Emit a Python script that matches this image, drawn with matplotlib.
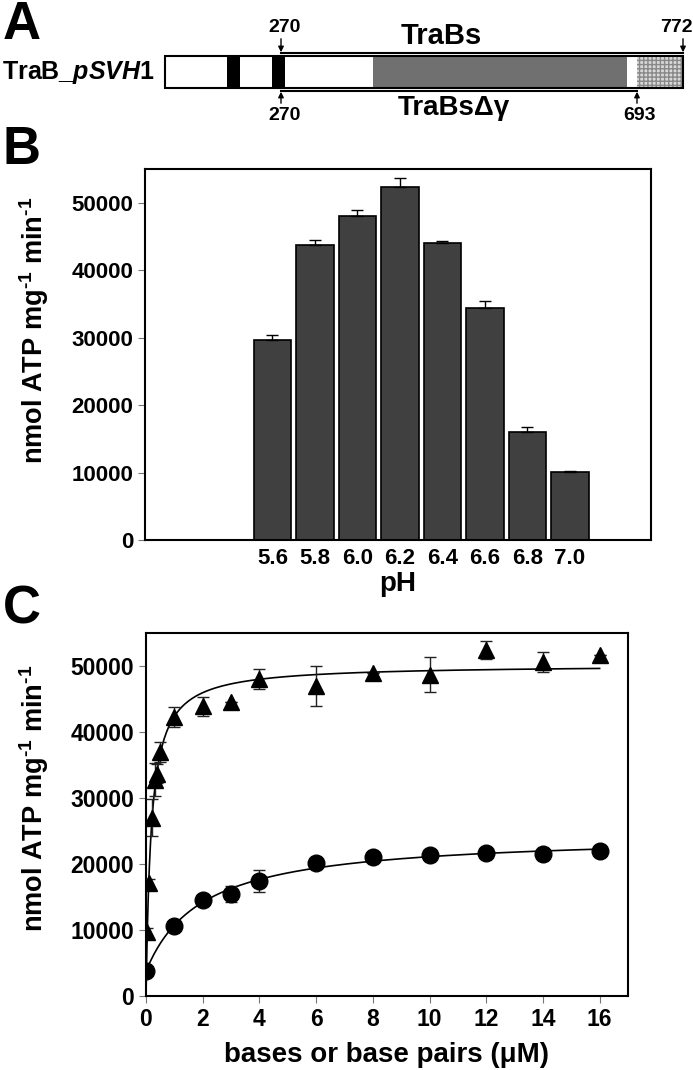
import numpy as np
import matplotlib
matplotlib.use("Agg")
import matplotlib.pyplot as plt
from matplotlib.patches import Rectangle

plt.rcParams['font.family'] = ['Liberation Sans', 'DejaVu Sans']
plt.rcParams['font.weight'] = 'bold'
plt.rcParams['mathtext.fontset'] = 'custom'
plt.rcParams['mathtext.rm'] = 'Liberation Sans:bold'
plt.rcParams['mathtext.bf'] = 'Liberation Sans:bold'
plt.rcParams['mathtext.it'] = 'Liberation Sans:bold:italic'

# ---------------- data ----------------
ph_labels = ["5.6", "5.8", "6.0", "6.2", "6.4", "6.6", "6.8", "7.0"]
ph_activity = [29700, 43700, 48100, 52400, 44100, 34400, 16000, 10100]
ph_err = [700, 750, 750, 1300, 250, 1000, 750, 200]

tri_x = [0.05, 0.1, 0.2, 0.3, 0.4, 0.5, 1, 2, 3, 4, 6, 8, 10, 12, 14, 16]
tri_y = [9700, 17100, 27000, 32800, 33700, 37000, 42300, 43900, 44600, 48000,
         47000, 48900, 48700, 52400, 50600, 51600]
tri_err = [600, 700, 2800, 2500, 1500, 1500, 1500, 1400, 0, 1500,
           3000, 0, 2600, 1400, 1500, 0]

cir_x = [0, 1, 2, 3, 4, 6, 8, 10, 12, 14, 16]
cir_y = [3800, 10600, 14600, 15500, 17400, 20100, 21000, 21400, 21600, 21500, 21900]
cir_err = [0, 0, 0, 1200, 1700, 0, 0, 0, 0, 0, 0]

c_xticks = [0, 2, 4, 6, 8, 10, 12, 14, 16]
y_ticks = [0, 10000, 20000, 30000, 40000, 50000]

# domain diagram (panel A), in diagram units along the bar
domain_segments = [  # (start, end, facecolor, hatch)
    (165, 683, 'white', None),
    (227, 240, 'black', None),
    (272, 285, 'black', None),
    (373, 627, '#707070', None),
    (637, 683, '#d8d8d8', '++++'),
]

# ---------------- helper: hyperbolic fit ----------------
def mm_fit(x, y, offset):
    x = np.asarray(x, float)
    y = np.asarray(y, float)
    best = None
    for K in np.linspace(0.01, 10, 4000):
        h = x / (K + x)
        if offset:
            A = np.column_stack([np.ones_like(h), h])
        else:
            A = h[:, None]
        coef, *_ = np.linalg.lstsq(A, y, rcond=None)
        r = np.sum((A @ coef - y) ** 2)
        if best is None or r < best[0]:
            best = (r, K, coef)
    _, K, coef = best
    if offset:
        return lambda t: coef[0] + coef[1] * t / (K + t)
    return lambda t: coef[0] * t / (K + t)

W, H = 693, 1070
fig = plt.figure(figsize=(W / 100, H / 100), dpi=100)

def fr(left, top, right, bottom):
    return [left / W, 1 - bottom / H, (right - left) / W, (bottom - top) / H]

# ---------------- panel A ----------------
axA = fig.add_axes([0, 0, 1, 1], zorder=-1)
axA.set_xlim(0, W)
axA.set_ylim(H, 0)
axA.axis('off')
y0, y1 = 56, 88
for s, e, c, h in domain_segments:
    axA.add_patch(Rectangle((s, y0), e - s, y1 - y0, facecolor=c,
                            edgecolor='#888888' if h else 'none', hatch=h, lw=0.0))
axA.add_patch(Rectangle((165, y0), 683 - 165, y1 - y0, facecolor='none',
                        edgecolor='black', lw=1.5))
axA.plot([281, 683], [53, 53], color='black', lw=1.5)
axA.plot([281, 637], [91, 91], color='black', lw=1.5)
arrow_kw = dict(arrowstyle='-|>', color='black', lw=1, mutation_scale=8)
axA.annotate('', xy=(281, 55), xytext=(281, 36), arrowprops=arrow_kw)
axA.annotate('', xy=(683, 55), xytext=(683, 36), arrowprops=arrow_kw)
axA.annotate('', xy=(281, 89), xytext=(281, 106), arrowprops=arrow_kw)
axA.annotate('', xy=(637, 89), xytext=(637, 106), arrowprops=arrow_kw)
axA.text(285, 28, '270', ha='center', va='center', fontsize=14, fontweight='bold')
axA.text(676, 28, '772', ha='center', va='center', fontsize=14, fontweight='bold')
axA.text(285, 115, '270', ha='center', va='center', fontsize=14, fontweight='bold')
axA.text(640, 115, '693', ha='center', va='center', fontsize=14, fontweight='bold')
axA.text(441, 36, 'TraBs', ha='center', va='center', fontsize=21, fontweight='bold')
axA.text(454, 108, 'TraBs\u0394\u03b3', ha='center', va='center', fontsize=20, fontweight='bold')
axA.text(2, 72, r'TraB_$\mathit{pSVH}$1', ha='left', va='center', fontsize=18, fontweight='bold')
axA.text(3, 25, 'A', ha='left', va='center', fontsize=38, fontweight='bold')
axA.text(3, 150, 'B', ha='left', va='center', fontsize=38, fontweight='bold')
axA.text(3, 610, 'C', ha='left', va='center', fontsize=38, fontweight='bold')

ylab = 'nmol ATP mg$^{\\mathrm{\u2010}1}$ min$^{\\mathrm{\u2010}1}$'

# ---------------- panel B ----------------
axB = fig.add_axes(fr(145, 169, 651, 540))
xpos = np.arange(len(ph_labels))
axB.bar(xpos, ph_activity, width=0.88, color='#404040', edgecolor='black', lw=1.2, zorder=2)
axB.errorbar(xpos, ph_activity, yerr=[np.zeros(len(ph_err)), ph_err], fmt='none',
             ecolor='black', elinewidth=1, capsize=4, capthick=1, zorder=3)
axB.set_xlim(-3.0, 8.91)
axB.set_ylim(0, 55000)
axB.set_xticks(xpos)
axB.set_xticklabels(ph_labels)
axB.set_yticks(y_ticks)
axB.tick_params(axis='x', length=0, labelsize=16, pad=6)
axB.tick_params(axis='y', length=5, color='#777777', direction='out', labelsize=16)
axB.set_xlabel('pH', fontsize=20, fontweight='bold', labelpad=1)
axB.set_ylabel(ylab, fontsize=19.5, fontweight='bold')
axB.yaxis.set_label_coords(-0.185, 0.565)
for sp in axB.spines.values():
    sp.set_linewidth(1.5)

# ---------------- panel C ----------------
axC = fig.add_axes(fr(146, 633, 628, 996))
xs = np.linspace(0, 16, 400)
f_tri = mm_fit(tri_x, tri_y, offset=False)
f_cir = mm_fit(cir_x, cir_y, offset=True)
axC.plot(xs, f_tri(xs), color='black', lw=1.2, zorder=2)
axC.plot(xs, f_cir(xs), color='black', lw=1.2, zorder=2)
axC.errorbar(tri_x, tri_y, yerr=tri_err, fmt='^', color='black', ms=11,
             ecolor='#222222', elinewidth=1, capsize=4, capthick=1, zorder=3)
axC.errorbar(cir_x, cir_y, yerr=cir_err, fmt='o', color='black', ms=12,
             ecolor='#222222', elinewidth=1, capsize=4, capthick=1, zorder=3)
axC.set_xlim(0, 17)
axC.set_ylim(0, 55000)
axC.set_xticks(c_xticks)
axC.set_yticks(y_ticks)
axC.tick_params(axis='both', length=5, color='#777777', direction='out', labelsize=16.5)
axC.set_xlabel('bases or base pairs (\u03bcM)', fontsize=20, fontweight='bold', labelpad=8)
axC.set_ylabel(ylab, fontsize=19.5, fontweight='bold')
axC.yaxis.set_label_coords(-0.197, 0.545)
for sp in axC.spines.values():
    sp.set_linewidth(1.5)

fig.savefig('out.png', dpi=100)
